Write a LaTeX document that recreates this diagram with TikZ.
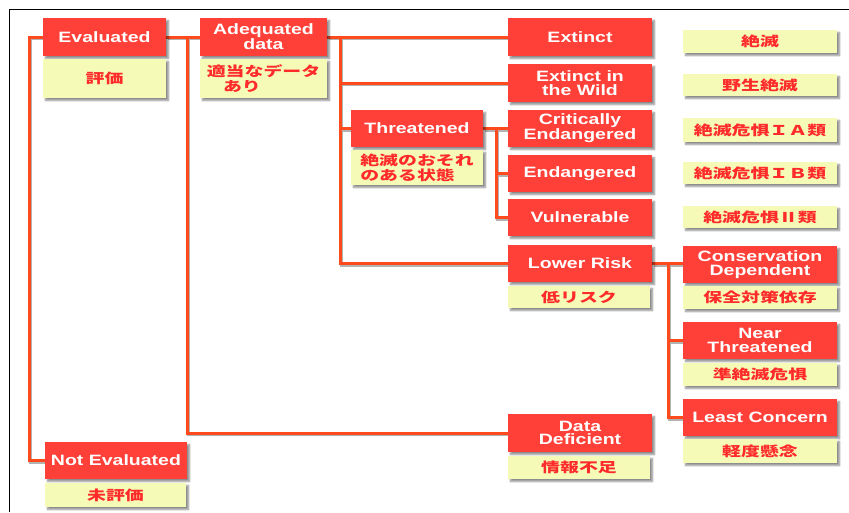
\documentclass[tikz,border=0pt]{standalone}
\usepackage{fontspec}
\usetikzlibrary{shadows.blur,backgrounds}
\newfontfamily\enfont[FakeStretch=1.3]{Liberation Sans}
\newfontfamily\jpfont[FakeStretch=1.4]{Noto Sans CJK JP}
\definecolor{boxred}{HTML}{FF4038}
\definecolor{boxyel}{HTML}{F5FAB6}
\definecolor{linec}{HTML}{FF4A1E}
\definecolor{jptext}{HTML}{FF2A2A}
\tikzset{
  shad/.style={blur shadow={shadow xshift=2.5pt, shadow yshift=-2.5pt, shadow blur steps=6, shadow opacity=45}},
  redbox/.style={shad, fill=boxred, text=white, inner sep=0pt, outer sep=0pt, align=center,
    font=\enfont\bfseries\fontsize{15}{13.8}\selectfont},
  yelbox/.style={shad, fill=boxyel, text=jptext, inner sep=0pt, outer sep=0pt, align=center,
    font=\jpfont\bfseries\fontsize{13.5}{15}\selectfont},
  conn/.style={draw=linec, line width=3pt, preaction={draw=black!30, line width=3pt, transform canvas={shift={(1.5pt,-1.5pt)}}}},
}
\begin{document}
\begin{tikzpicture}[x=1pt,y=-1pt]
\useasboundingbox (0,0) rectangle (849,512);
\draw[black, line width=1.5pt] (849,9.5) -- (9.5,9.5) -- (9.5,512);
% red boxes
\node[redbox, minimum width=123, minimum height=38] (ev) at (104.5,37) {Evaluated};
\node[redbox, minimum width=127, minimum height=38] (ad) at (263.5,37) {Adequated\\data};
\node[redbox, minimum width=144, minimum height=38] (ex) at (580,37) {Extinct};
\node[redbox, minimum width=144, minimum height=38] (ew) at (580,83) {Extinct in\\the Wild};
\node[redbox, minimum width=132, minimum height=37] (th) at (417,128.5) {Threatened};
\node[redbox, minimum width=144, minimum height=37] (ce) at (580,128.5) {Critically\\Endangered};
\node[redbox, minimum width=144, minimum height=37] (en) at (580,173.5) {Endangered};
\node[redbox, minimum width=144, minimum height=37] (vu) at (580,217.5) {Vulnerable};
\node[redbox, minimum width=144, minimum height=37] (lr) at (580,263.5) {Lower Risk};
\node[redbox, minimum width=144, minimum height=38] (dd) at (580,433) {Data\\Deficient};
\node[redbox, minimum width=154, minimum height=37] (cd) at (760,264.5) {Conservation\\Dependent};
\node[redbox, minimum width=154, minimum height=37] (nt) at (760,340.5) {Near\\Threatened};
\node[redbox, minimum width=154, minimum height=37] (lc) at (760,417.5) {Least Concern};
\node[redbox, minimum width=142, minimum height=37] (ne) at (116,460.5) {Not Evaluated};
% yellow boxes
\node[yelbox, minimum width=123, minimum height=39] (evj) at (104.5,78.5) {評価};
\node[yelbox, minimum width=127, minimum height=39, align=left] (adj) at (263.5,78.5) {適当なデータ\\\hspace*{1.2em}あり};
\node[yelbox, minimum width=132, minimum height=35, align=left] (thj) at (417,167.5) {絶滅のおそれ\\のある状態};
\node[yelbox, minimum width=142, minimum height=22] (lrj) at (579,297) {低リスク};
\node[yelbox, minimum width=142, minimum height=23] (ddj) at (579,467.5) {情報不足};
\node[yelbox, minimum width=154, minimum height=23] (cdj) at (760,297.5) {保全対策依存};
\node[yelbox, minimum width=154, minimum height=23] (ntj) at (760,374.5) {準絶滅危惧};
\node[yelbox, minimum width=154, minimum height=24] (lcj) at (760,451) {軽度懸念};
\node[yelbox, minimum width=141, minimum height=24] (nej) at (115.5,495) {未評価};
\node[yelbox, minimum width=154, minimum height=23] (r1) at (760,41.5) {絶滅};
\node[yelbox, minimum width=154, minimum height=22] (r2) at (760,85) {野生絶滅};
\node[yelbox, minimum width=154, minimum height=24] (r3) at (760,130) {絶滅危惧ＩＡ類};
\node[yelbox, minimum width=154, minimum height=22] (r4) at (760,173) {絶滅危惧ＩＢ類};
\node[yelbox, minimum width=154, minimum height=22] (r5) at (760,217) {絶滅危惧Ⅱ類};
% connectors
\coordinate (j1) at (187,37);
\coordinate (j2) at (340,37);
\coordinate (j3) at (496,128.5);
\coordinate (j4) at (668,263.5);
\begin{pgfonlayer}{background}
\path[conn] (ev.west) -- ++(-14,0) |- (ne.west);
\path[conn] (ev.east) -- (ad.west);
\path[conn] (j1) |- (dd.west);
\path[conn] (ad.east) -- (ex.west);
\path[conn] (j2) |- (lr.west);
\path[conn] (j2 |- ew.west) -- (ew.west);
\path[conn] (j2 |- th.west) -- (th.west);
\path[conn] (th.east) -- (ce.west);
\path[conn] (j3) |- (vu.west);
\path[conn] (j3 |- en.west) -- (en.west);
\path[conn] (lr.east) -- (lr.east -| cd.west);
\path[conn] (j4) |- (lc.west);
\path[conn] (j4 |- nt.west) -- (nt.west);
\end{pgfonlayer}
\end{tikzpicture}
\end{document}
